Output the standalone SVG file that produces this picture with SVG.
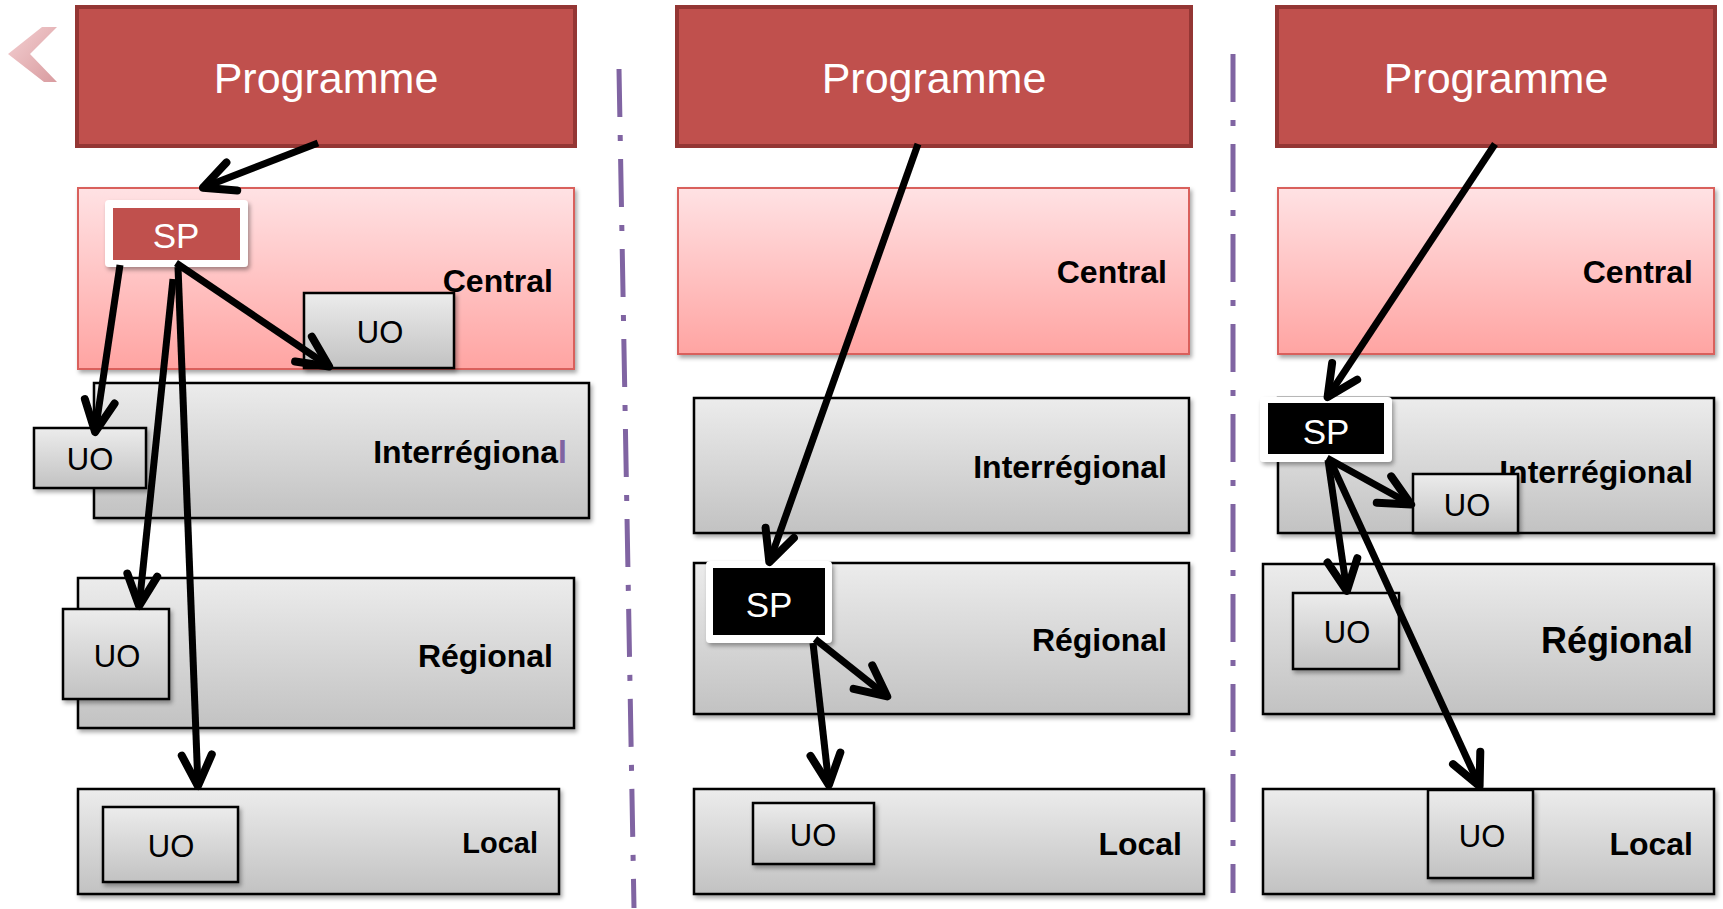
<svg xmlns="http://www.w3.org/2000/svg" width="1723" height="909" viewBox="0 0 1723 909">
<defs>
<linearGradient id="gPink" x1="0" y1="0" x2="0" y2="1"><stop offset="0" stop-color="#ffe2e4"/><stop offset="1" stop-color="#ffa4a2"/></linearGradient>
<linearGradient id="gGray" x1="0" y1="0" x2="0" y2="1"><stop offset="0" stop-color="#ececec"/><stop offset="1" stop-color="#c2c2c2"/></linearGradient>
<linearGradient id="gBack" x1="0" y1="0" x2="1" y2="1"><stop offset="0" stop-color="#f4d0d2"/><stop offset="1" stop-color="#d99ca0"/></linearGradient>
<filter id="sh" x="-10%" y="-10%" width="130%" height="140%"><feDropShadow dx="2" dy="3" stdDeviation="2" flood-color="#000" flood-opacity="0.35"/></filter>
<marker id="ah" markerUnits="userSpaceOnUse" orient="auto" refX="0" refY="0" markerWidth="1" markerHeight="1" overflow="visible">
<path d="M-32,-15 L-1,0 L-32,15" fill="none" stroke="#000" stroke-width="8" stroke-linecap="round" stroke-linejoin="round"/>
</marker>
</defs>
<style>
.prog{fill:#c0504d;stroke:#943634;stroke-width:4}
.cen{fill:url(#gPink);stroke:#d9605c;stroke-width:2;filter:url(#sh)}
.lvl{fill:url(#gGray);stroke:#000;stroke-width:2.5;filter:url(#sh)}
.uo{fill:url(#gGray);stroke:#000;stroke-width:2.5;filter:url(#sh)}
.spw{fill:#fff;filter:url(#sh)}
.ptxt{font-family:"Liberation Sans",Arial,sans-serif;font-size:43px;fill:#fff;text-anchor:middle}
.sptxt{font-family:"Liberation Sans",Arial,sans-serif;font-size:35px;fill:#fff;text-anchor:middle}
.uotxt{font-family:"Liberation Sans",Arial,sans-serif;font-size:31px;fill:#000;text-anchor:middle}
.lab{font-family:"Liberation Sans",Arial,sans-serif;font-size:32px;font-weight:bold;fill:#000;text-anchor:end}
.arr{fill:none;stroke:#000;stroke-width:7;marker-end:url(#ah)}
.div{stroke:#8064a2;stroke-width:5;stroke-dasharray:48 18 6 18;fill:none}
</style>
<rect width="1723" height="909" fill="#fff"/>
<polygon id="back" points="8,54 42,27 57,27 30,54 57,82 44,82" fill="url(#gBack)"/>
<g id="dividers">
<line class="div" x1="619" y1="69" x2="634" y2="908"/>
<line class="div" x1="1233" y1="54" x2="1233" y2="893"/>
</g>
<!-- Left panel -->
<g id="L-programme"><rect class="prog" x="77" y="7" width="498" height="139"/><text class="ptxt" x="326" y="93">Programme</text></g>
<g id="L-central"><rect class="cen" x="78" y="188" width="496" height="181"/><text class="lab" x="553" y="292">Central</text></g>
<g id="L-uo-central"><rect class="uo" x="304" y="293" width="150" height="75"/><text class="uotxt" x="380" y="343">UO</text></g>
<g id="L-interregional"><rect class="lvl" x="94" y="383" width="495" height="135"/><text class="lab" x="567" y="463">Interrégiona<tspan fill="#8064a2">l</tspan></text></g>
<g id="L-uo-interregional"><rect class="uo" x="34" y="428" width="112" height="60"/><text class="uotxt" x="90" y="470">UO</text></g>
<g id="L-regional"><rect class="lvl" x="78" y="578" width="496" height="150"/><text class="lab" x="553" y="667">Régional</text></g>
<g id="L-uo-regional"><rect class="uo" x="63" y="609" width="106" height="90"/><text class="uotxt" x="117" y="667">UO</text></g>
<g id="L-local"><rect class="lvl" x="78" y="789" width="481" height="105"/><text class="lab" x="538" y="853" style="font-size:29px">Local</text></g>
<g id="L-uo-local"><rect class="uo" x="103" y="807" width="135" height="75"/><text class="uotxt" x="171" y="857">UO</text></g>
<g id="L-sp"><rect class="spw" x="105" y="200" width="143" height="67" rx="4"/><rect x="113" y="208" width="127" height="52" fill="#c0504d"/><text class="sptxt" x="176" y="248">SP</text></g>
<!-- Middle panel -->
<g id="M-programme"><rect class="prog" x="677" y="7" width="514" height="139"/><text class="ptxt" x="934" y="93">Programme</text></g>
<g id="M-central"><rect class="cen" x="678" y="188" width="511" height="166"/><text class="lab" x="1167" y="283">Central</text></g>
<g id="M-interregional"><rect class="lvl" x="694" y="398" width="495" height="135"/><text class="lab" x="1167" y="478">Interrégional</text></g>
<g id="M-regional"><rect class="lvl" x="694" y="563" width="495" height="151"/><text class="lab" x="1167" y="651">Régional</text></g>
<g id="M-local"><rect class="lvl" x="694" y="789" width="510" height="105"/><text class="lab" x="1182" y="855">Local</text></g>
<g id="M-uo-local"><rect class="uo" x="753" y="803" width="121" height="61"/><text class="uotxt" x="813" y="846">UO</text></g>
<g id="M-sp"><rect class="spw" x="706" y="561" width="126" height="82" rx="4"/><rect x="713" y="568" width="112" height="67" fill="#000"/><text class="sptxt" x="769" y="617">SP</text></g>
<!-- Right panel -->
<g id="R-programme"><rect class="prog" x="1277" y="7" width="438" height="139"/><text class="ptxt" x="1496" y="93">Programme</text></g>
<g id="R-central"><rect class="cen" x="1278" y="188" width="436" height="166"/><text class="lab" x="1693" y="283">Central</text></g>
<g id="R-interregional"><rect class="lvl" x="1278" y="398" width="436" height="135"/><text class="lab" x="1693" y="483">Interrégional</text></g>
<g id="R-uo-interregional"><rect class="uo" x="1413" y="474" width="105" height="59"/><text class="uotxt" x="1467" y="516">UO</text></g>
<g id="R-regional"><rect class="lvl" x="1263" y="564" width="451" height="150"/><text class="lab" x="1693" y="653" style="font-size:36px">Régional</text></g>
<g id="R-uo-regional"><rect class="uo" x="1293" y="593" width="106" height="76"/><text class="uotxt" x="1347" y="643">UO</text></g>
<g id="R-local"><rect class="lvl" x="1263" y="789" width="451" height="105"/><text class="lab" x="1693" y="855">Local</text></g>
<g id="R-uo-local"><rect class="uo" x="1428" y="790" width="105" height="88"/><text class="uotxt" x="1482" y="847">UO</text></g>
<g id="R-sp"><rect class="spw" x="1260" y="397" width="132" height="65" rx="4"/><rect x="1268" y="403" width="116" height="51" fill="#000"/><text class="sptxt" x="1326" y="444">SP</text></g>
<g id="connectors">
<line class="arr" x1="318" y1="143" x2="202" y2="188"/>
<line class="arr" x1="176" y1="263" x2="330" y2="367"/>
<line class="arr" x1="120" y1="265" x2="95" y2="433"/>
<line class="arr" x1="173" y1="279" x2="139" y2="607"/>
<line class="arr" x1="178" y1="267" x2="198" y2="787"/>
<line class="arr" x1="918" y1="144" x2="769" y2="563"/>
<line class="arr" x1="815" y1="639" x2="888" y2="697"/>
<line class="arr" x1="813" y1="643" x2="829" y2="786"/>
<line class="arr" x1="1495" y1="144" x2="1327" y2="398"/>
<line class="arr" x1="1327" y1="458" x2="1412" y2="505"/>
<line class="arr" x1="1328" y1="460" x2="1347" y2="592"/>
<line class="arr" x1="1330" y1="460" x2="1480" y2="787"/>
</g>
</svg>
